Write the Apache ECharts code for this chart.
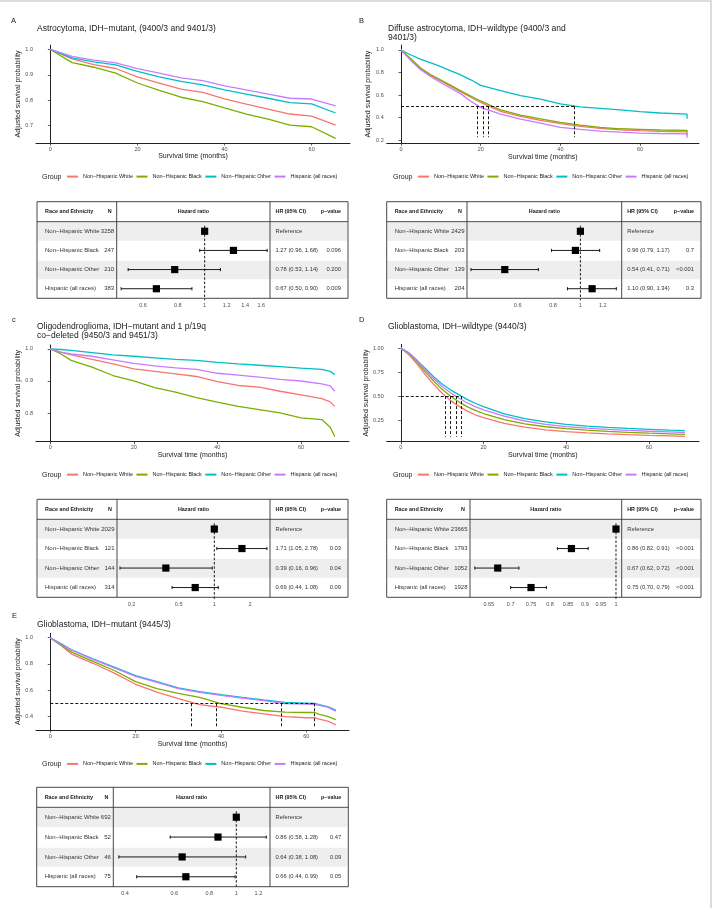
<!DOCTYPE html>
<html>
<head>
<meta charset="utf-8">
<title>Survival by race and ethnicity</title>
<script src="https://cdn.jsdelivr.net/npm/echarts@6/dist/echarts.min.js"></script>
<style>
html, body { margin: 0; padding: 0; background: #fff; }
#chart { width: 712px; height: 908px; }
</style>
</head>
<body>
<div id="chart"></div>
<script>
var groups = ['Non−Hispanic White', 'Non−Hispanic Black', 'Non−Hispanic Other', 'Hispanic (all races)'];
var colors = ['#F8766D', '#7CAE00', '#00BFC4', '#C77CFF'];
var monthTicks = [0, 20, 40, 60];

// A - Astrocytoma, IDH-mutant
var monthsA = [0, 5, 10, 15, 20, 25, 30, 35, 40, 45, 50, 55, 60, 65.5];
var whiteA = [1, 0.963, 0.940, 0.925, 0.892, 0.868, 0.844, 0.831, 0.806, 0.785, 0.765, 0.746, 0.738, 0.702];
var blackA = [1, 0.948, 0.930, 0.907, 0.868, 0.839, 0.812, 0.795, 0.770, 0.746, 0.726, 0.702, 0.696, 0.650];
var otherA = [1, 0.967, 0.951, 0.939, 0.914, 0.892, 0.874, 0.861, 0.841, 0.824, 0.808, 0.791, 0.786, 0.750];
var hispA = [1, 0.973, 0.958, 0.947, 0.925, 0.907, 0.888, 0.877, 0.857, 0.841, 0.824, 0.808, 0.805, 0.778];
var survTicksA = [0.7, 0.8, 0.9, 1.0];
var nA = [3258, 247, 210, 383];
var hrA = [1, 1.27, 0.78, 0.67];
var loA = [null, 0.96, 0.53, 0.50];
var hiA = [null, 1.68, 1.14, 0.90];
var pA = ['', '0.096', '0.200', '0.009'];
var hrTicksA = [0.6, 0.8, 1, 1.2, 1.4, 1.6];

// B - Diffuse astrocytoma, IDH-wildtype
var monthsB = [0, 2.5, 5, 7.5, 10, 12.5, 15, 17.5, 20, 25, 30, 35, 40, 45, 50, 55, 60, 65, 71.8, 71.8];
var whiteB = [1, 0.915, 0.830, 0.772, 0.725, 0.676, 0.628, 0.580, 0.535, 0.455, 0.410, 0.375, 0.345, 0.322, 0.303, 0.290, 0.283, 0.277, 0.272, 0.240];
var blackB = [1, 0.920, 0.837, 0.780, 0.733, 0.685, 0.638, 0.590, 0.547, 0.467, 0.422, 0.387, 0.357, 0.333, 0.313, 0.300, 0.295, 0.289, 0.285, 0.270];
var otherB = [1, 0.955, 0.917, 0.885, 0.852, 0.815, 0.778, 0.735, 0.685, 0.638, 0.594, 0.564, 0.522, 0.495, 0.481, 0.467, 0.452, 0.440, 0.430, 0.390];
var hispB = [1, 0.905, 0.822, 0.762, 0.709, 0.660, 0.610, 0.545, 0.490, 0.430, 0.385, 0.350, 0.313, 0.295, 0.280, 0.270, 0.262, 0.258, 0.255, 0.220];
var survTicksB = [0.2, 0.4, 0.6, 0.8, 1.0];
var mediansB = [20.7, 21.9, 43.5, 19.2];
var nB = [2429, 203, 139, 204];
var hrB = [1, 0.96, 0.54, 1.10];
var loB = [null, 0.79, 0.41, 0.90];
var hiB = [null, 1.17, 0.71, 1.34];
var pB = ['', '0.7', '<0.001', '0.3'];
var hrTicksB = [0.6, 0.8, 1, 1.2];

// C - Oligodendroglioma
var monthsC = [0, 2.5, 5, 10, 15, 20, 25, 30, 35, 40, 45, 50, 55, 60, 65, 67, 68.1];
var whiteC = [1, 0.990, 0.981, 0.967, 0.953, 0.938, 0.930, 0.922, 0.914, 0.898, 0.886, 0.881, 0.868, 0.857, 0.845, 0.835, 0.821];
var blackC = [1, 0.985, 0.964, 0.943, 0.917, 0.900, 0.879, 0.865, 0.848, 0.834, 0.821, 0.811, 0.801, 0.785, 0.780, 0.756, 0.727];
var otherC = [1, 0.998, 0.995, 0.988, 0.981, 0.977, 0.972, 0.967, 0.964, 0.958, 0.953, 0.949, 0.945, 0.940, 0.936, 0.930, 0.920];
var hispC = [1, 0.990, 0.984, 0.977, 0.966, 0.955, 0.947, 0.941, 0.936, 0.924, 0.918, 0.912, 0.905, 0.900, 0.891, 0.885, 0.868];
var survTicksC = [0.8, 0.9, 1.0];
var nC = [2029, 121, 144, 314];
var hrC = [1, 1.71, 0.39, 0.69];
var loC = [null, 1.05, 0.16, 0.44];
var hiC = [null, 2.78, 0.96, 1.08];
var pC = ['', '0.03', '0.04', '0.09'];
var hrTicksC = [0.2, 0.5, 1, 2];

// D - Glioblastoma, IDH-wildtype
var monthsD = [0, 2, 4, 6, 8, 10, 12, 14, 16, 18, 20, 25, 30, 35, 40, 45, 50, 55, 60, 65, 68.7];
var whiteD = [1, 0.93, 0.83, 0.72, 0.62, 0.53, 0.455, 0.395, 0.345, 0.305, 0.275, 0.215, 0.175, 0.148, 0.130, 0.117, 0.106, 0.098, 0.091, 0.085, 0.080];
var blackD = [1, 0.94, 0.85, 0.75, 0.655, 0.57, 0.50, 0.44, 0.39, 0.35, 0.318, 0.255, 0.210, 0.180, 0.160, 0.145, 0.132, 0.122, 0.113, 0.106, 0.100];
var otherD = [1, 0.95, 0.87, 0.785, 0.70, 0.625, 0.565, 0.515, 0.465, 0.425, 0.390, 0.315, 0.265, 0.230, 0.205, 0.187, 0.173, 0.162, 0.153, 0.145, 0.140];
var hispD = [1, 0.945, 0.86, 0.77, 0.68, 0.60, 0.535, 0.48, 0.43, 0.39, 0.355, 0.290, 0.240, 0.205, 0.182, 0.165, 0.152, 0.142, 0.133, 0.126, 0.120];
var survTicksD = [0.25, 0.5, 0.75, 1.0];
var mediansD = [10.7, 12.0, 14.7, 13.4];
var nD = [23665, 1793, 1052, 1928];
var hrD = [1, 0.86, 0.67, 0.75];
var loD = [null, 0.82, 0.62, 0.70];
var hiD = [null, 0.91, 0.72, 0.79];
var pD = ['', '<0.001', '<0.001', '<0.001'];
var hrTicksD = [0.65, 0.7, 0.75, 0.8, 0.85, 0.9, 0.95, 1];

// E - Glioblastoma, IDH-mutant
var monthsE = [0, 2.5, 5, 10, 15, 20, 25, 30, 35, 40, 45, 50, 55, 60, 62, 63, 65, 66.9];
var whiteE = [1, 0.940, 0.875, 0.805, 0.730, 0.645, 0.585, 0.535, 0.490, 0.470, 0.440, 0.420, 0.398, 0.390, 0.390, 0.380, 0.365, 0.335];
var blackE = [1, 0.945, 0.890, 0.820, 0.750, 0.665, 0.612, 0.575, 0.545, 0.497, 0.470, 0.445, 0.432, 0.430, 0.430, 0.415, 0.400, 0.375];
var otherE = [1, 0.955, 0.908, 0.839, 0.775, 0.711, 0.665, 0.617, 0.589, 0.566, 0.545, 0.525, 0.507, 0.502, 0.500, 0.490, 0.474, 0.448];
var hispE = [1, 0.950, 0.905, 0.835, 0.770, 0.705, 0.660, 0.612, 0.584, 0.560, 0.540, 0.520, 0.497, 0.493, 0.490, 0.485, 0.470, 0.440];
var survTicksE = [0.4, 0.6, 0.8, 1.0];
var mediansE = [33.0, 38.9, 61.9, 54.2];
var nE = [692, 52, 46, 75];
var hrE = [1, 0.86, 0.64, 0.66];
var loE = [null, 0.58, 0.38, 0.44];
var hiE = [null, 1.28, 1.08, 0.99];
var pE = ['', '0.47', '0.09', '0.05'];
var hrTicksE = [0.4, 0.6, 0.8, 1, 1.2];

var fontFam = '"Liberation Sans", Arial, Helvetica, sans-serif';

//每个子图的位置（像素）
var panels = [
    { letter: 'A', lx: 11, ly: 21, title: 'Astrocytoma, IDH−mutant, (9400/3 and 9401/3)', tx: 37, ty: 29,
      km: [36, 45, 314, 98], xr: [-3.3, 68.8], yr: [0.632, 1.0175], dec: 1, yGap: 9.5, xGap: 9.5, low: 0,
      legX: 67, legY: 177, tb: [37, 348, 201.7, 221.7, 298.3, 116.7, 270], fr: [0.482, 1.72],
      months: monthsA, curves: [whiteA, blackA, otherA, hispA], yt: survTicksA, med: null,
      n: nA, hr: hrA, lo: loA, hi: hiA, p: pA, ht: hrTicksA },
    { letter: 'B', lx: 359, ly: 21, title: 'Diffuse astrocytoma, IDH−wildtype (9400/3 and\n9401/3)', tx: 388, ty: 33,
      km: [386.7, 45, 312.3, 98.3], xr: [-3.6, 74.8], yr: [0.171, 1.044], dec: 1, yGap: 15.5, xGap: 10, low: 0.225,
      legX: 418, legY: 177, tb: [386.7, 701, 201.7, 221.7, 298.3, 467, 621.7], fr: [0.397, 1.40],
      months: monthsB, curves: [whiteB, blackB, otherB, hispB], yt: survTicksB, med: mediansB,
      n: nB, hr: hrB, lo: loB, hi: hiB, p: pB, ht: hrTicksB },
    { letter: 'c', lx: 12, ly: 320, title: 'Oligodendroglioma, IDH−mutant and 1 p/19q\nco−deleted (9450/3 and 9451/3)', tx: 37, ty: 331.2,
      km: [36, 345, 313, 96.7], xr: [-3.4, 71.5], yr: [0.711, 1.012], dec: 1, yGap: 9.5, xGap: 9.5, low: 0,
      legX: 67, legY: 475, tb: [37, 348, 499.3, 519.3, 597.3, 117, 270], fr: [0.151, 2.95],
      months: monthsC, curves: [whiteC, blackC, otherC, hispC], yt: survTicksC, med: null,
      n: nC, hr: hrC, lo: loC, hi: hiC, p: pC, ht: hrTicksC },
    { letter: 'D', lx: 359, ly: 320, title: 'Glioblastoma, IDH−wildtype (9440/3)', tx: 388, ty: 326.7,
      km: [386.7, 344.3, 312.3, 97.4], xr: [-3.4, 72.1], yr: [0.024, 1.04], dec: 2, yGap: 15.5, xGap: 9.5, low: 0.075,
      legX: 418, legY: 475, tb: [386.7, 701, 499.3, 519.3, 597.3, 470, 621.7], fr: [0.61, 1.0195],
      months: monthsD, curves: [whiteD, blackD, otherD, hispD], yt: survTicksD, med: mediansD,
      n: nD, hr: hrD, lo: loD, hi: hiD, p: pD, ht: hrTicksD },
    { letter: 'E', lx: 12, ly: 616, title: 'Glioblastoma, IDH−mutant (9445/3)', tx: 37, ty: 625,
      km: [36, 633.3, 313, 96.7], xr: [-3.35, 70], yr: [0.2965, 1.0335], dec: 1, yGap: 9.5, xGap: 10.5, low: 0.315,
      legX: 67, legY: 764.3, tb: [36.7, 348.3, 787.3, 807.3, 886.7, 113.3, 270], fr: [0.363, 1.32],
      months: monthsE, curves: [whiteE, blackE, otherE, hispE], yt: survTicksE, med: mediansE,
      n: nE, hr: hrE, lo: loE, hi: hiE, p: pE, ht: hrTicksE }
];

function txt(x, y, s, size, opt) {
    opt = opt || {};
    var align = opt.align || 'left';
    return {
        type: 'text', x: x, y: y, silent: true, z: 20,
        style: {
            text: s, fill: opt.color || '#1a1a1a',
            fontSize: size, fontFamily: fontFam, fontWeight: opt.bold ? 'bold' : 'normal',
            textAlign: align, align: align,
            textVerticalAlign: 'middle', verticalAlign: 'middle',
            lineHeight: opt.lh || null
        }
    };
}

function seg(x1, y1, x2, y2, w, z) {
    return { type: 'line', silent: true, z: z || 20, shape: { x1: x1, y1: y1, x2: x2, y2: y2 },
             style: { stroke: '#333', lineWidth: w || 0.9 } };
}

//森林图：误差线 + 方块 + 参考虚线
function renderForest(params, api) {
    var row = api.value(3);
    var c = api.coord([api.value(0), row]);
    var children = [];
    if (params.dataIndex === 0) {
        var cs = params.coordSys;
        children.push({ type: 'line', shape: { x1: c[0], y1: cs.y + 4, x2: c[0], y2: cs.y + cs.height + 2 },
                        style: { stroke: '#000', lineWidth: 0.9, lineDash: [2.5, 1.8] } });
    }
    var lo = api.value(1), hi = api.value(2);
    if (!isNaN(lo) && !isNaN(hi) && lo > 0) {
        var a = api.coord([lo, row]), b = api.coord([hi, row]);
        children.push({ type: 'line', shape: { x1: a[0], y1: c[1], x2: b[0], y2: c[1] }, style: { stroke: '#000', lineWidth: 0.9 } });
        children.push({ type: 'line', shape: { x1: a[0], y1: c[1] - 1.6, x2: a[0], y2: c[1] + 1.6 }, style: { stroke: '#000', lineWidth: 0.9 } });
        children.push({ type: 'line', shape: { x1: b[0], y1: c[1] - 1.6, x2: b[0], y2: c[1] + 1.6 }, style: { stroke: '#000', lineWidth: 0.9 } });
    }
    children.push({ type: 'rect', shape: { x: c[0] - 3.6, y: c[1] - 3.6, width: 7.2, height: 7.2 }, style: { fill: '#000' } });
    return { type: 'group', children: children };
}

var option = {
    animation: false,
    backgroundColor: '#fff',
    textStyle: { fontFamily: fontFam },
    grid: [], xAxis: [], yAxis: [], series: [], legend: [],
    graphic: { elements: [] }
};
var G = option.graphic.elements;

// 外框
G.push({ type: 'line', silent: true, shape: { x1: 0, y1: 1, x2: 712, y2: 1 }, style: { stroke: '#d6dde3', lineWidth: 2 } });
G.push({ type: 'line', silent: true, shape: { x1: 711, y1: 0, x2: 711, y2: 908 }, style: { stroke: '#d6dde3', lineWidth: 2 } });

panels.forEach(function (P) {
    // 生存曲线
    var gi = option.grid.length;
    option.grid.push({ left: P.km[0], top: P.km[1], width: P.km[2], height: P.km[3] });
    option.xAxis.push({
        type: 'value', gridIndex: gi, min: P.xr[0], max: P.xr[1],
        name: 'Survival time (months)', nameLocation: 'middle', nameGap: P.xGap,
        nameTextStyle: { fontSize: 7, color: '#1a1a1a', fontFamily: fontFam },
        axisLine: { lineStyle: { color: '#222', width: 1 } },
        axisTick: { customValues: monthTicks, length: 2.5, lineStyle: { color: '#333', width: 0.8 } },
        axisLabel: { customValues: monthTicks, fontSize: 5.5, color: '#4d4d4d', margin: 3 },
        splitLine: { show: false }
    });
    option.yAxis.push({
        type: 'value', gridIndex: gi, min: P.yr[0], max: P.yr[1],
        name: 'Adjusted survival probability', nameLocation: 'middle', nameGap: P.yGap,
        nameTextStyle: { fontSize: 7, color: '#1a1a1a', fontFamily: fontFam },
        axisLine: { lineStyle: { color: '#222', width: 1 } },
        axisTick: { customValues: P.yt, length: 2.5, lineStyle: { color: '#333', width: 0.8 } },
        axisLabel: { customValues: P.yt, fontSize: 5.5, color: '#4d4d4d', margin: 3,
                     formatter: function (v) { return Number(v).toFixed(P.dec); } },
        splitLine: { show: false }
    });
    P.curves.forEach(function (vals, g) {
        var s = {
            type: 'line', name: groups[g], xAxisIndex: gi, yAxisIndex: gi,
            data: P.months.map(function (m, i) { return [m, vals[i]]; }),
            showSymbol: false, symbol: 'none', color: colors[g],
            lineStyle: { width: 1.3, color: colors[g] }, z: 3
        };
        if (g === 0 && P.med) {
            var top = Math.max.apply(null, P.med);
            var lines = [[{ coord: [0, 0.5] }, { coord: [top, 0.5] }]];
            P.med.forEach(function (m) { lines.push([{ coord: [m, 0.5] }, { coord: [m, P.low] }]); });
            s.markLine = { silent: true, symbol: 'none', label: { show: false }, z: 5,
                           lineStyle: { type: [3, 2], color: '#000', width: 0.9 }, data: lines };
        }
        option.series.push(s);
    });
    option.legend.push({
        data: groups, left: P.legX, top: P.legY - 3.4, padding: 0, itemGap: 3.5,
        itemWidth: 11, itemHeight: 2, icon: 'rect', selectedMode: false,
        textStyle: { fontSize: 5.5, color: '#1a1a1a', fontFamily: fontFam }
    });

    // 森林图
    var tb = P.tb;
    var fi = option.grid.length;
    option.grid.push({ left: tb[5], top: tb[3], width: tb[6] - tb[5], height: tb[4] - tb[3] });
    option.xAxis.push({
        type: 'log', gridIndex: fi, min: P.fr[0], max: P.fr[1],
        axisLine: { show: false },
        axisTick: { customValues: P.ht, length: 2, lineStyle: { color: '#333', width: 0.8 } },
        axisLabel: { customValues: P.ht, fontSize: 5.5, color: '#4d4d4d', margin: 4,
                     formatter: function (v) { return String(Number(Number(v).toFixed(2))); } },
        splitLine: { show: false }
    });
    option.yAxis.push({
        type: 'category', gridIndex: fi, data: ['0', '1', '2', '3'], inverse: true,
        show: false
    });
    option.series.push({
        type: 'custom', xAxisIndex: fi, yAxisIndex: fi, z: 6, silent: true,
        renderItem: renderForest,
        encode: { x: 0, y: 3 },
        data: P.hr.map(function (h, i) { return [h, P.lo[i], P.hi[i], i]; })
    });

    // 表格：底色、边框、文字
    var rowH = (tb[4] - tb[3]) / 4;
    [0, 2].forEach(function (i) {
        G.push({ type: 'rect', silent: true, z: 0,
                 shape: { x: tb[0] + 0.5, y: tb[3] + i * rowH + 0.8, width: tb[1] - tb[0] - 1.5, height: rowH - 0.8 },
                 style: { fill: '#eeeeee' } });
    });
    G.push({ type: 'rect', silent: true, z: 20, shape: { x: tb[0], y: tb[2], width: tb[1] - tb[0], height: tb[4] - tb[2] },
             style: { fill: 'none', stroke: '#333', lineWidth: 0.9 } });
    G.push(seg(tb[0], tb[3], tb[1], tb[3]));
    G.push(seg(tb[5], tb[2], tb[5], tb[4]));
    G.push(seg(tb[6], tb[2], tb[6], tb[4]));
    var hy = (tb[2] + tb[3]) / 2;
    G.push(txt(tb[0] + 8, hy, 'Race and Ethnicity', 5.4, { bold: true }));
    G.push(txt(tb[5] - 5, hy, 'N', 5.4, { bold: true, align: 'right' }));
    G.push(txt((tb[5] + tb[6]) / 2, hy, 'Hazard ratio', 5.4, { bold: true, align: 'center' }));
    G.push(txt(tb[6] + 5.5, hy, 'HR (95% CI)', 5.4, { bold: true }));
    G.push(txt(tb[1] - 7, hy, 'p−value', 5.4, { bold: true, align: 'right' }));
    groups.forEach(function (name, i) {
        var y = tb[3] + (i + 0.5) * rowH;
        var hrText = i === 0 ? 'Reference'
            : P.hr[i].toFixed(2) + ' (' + P.lo[i].toFixed(2) + ', ' + P.hi[i].toFixed(2) + ')';
        G.push(txt(tb[0] + 8, y, name, 6, { color: '#333' }));
        G.push(txt(tb[5] - 2.5, y, String(P.n[i]), 6, { color: '#333', align: 'right' }));
        G.push(txt(tb[6] + 5.5, y, hrText, 5.8, { color: '#333' }));
        if (P.p[i]) G.push(txt(tb[1] - 7, y, P.p[i], 5.8, { color: '#333', align: 'right' }));
    });

    // 标号、标题、图例标题
    G.push(txt(P.lx, P.ly, P.letter, 7.5));
    G.push(txt(P.tx, P.ty, P.title, 8.5, { lh: 9.5 }));
    G.push(txt(P.legX - 25, P.legY, 'Group', 7));
});

var chart = echarts.init(document.getElementById('chart'), null, { renderer: 'canvas' });
chart.setOption(option);
</script>
</body>
</html>
